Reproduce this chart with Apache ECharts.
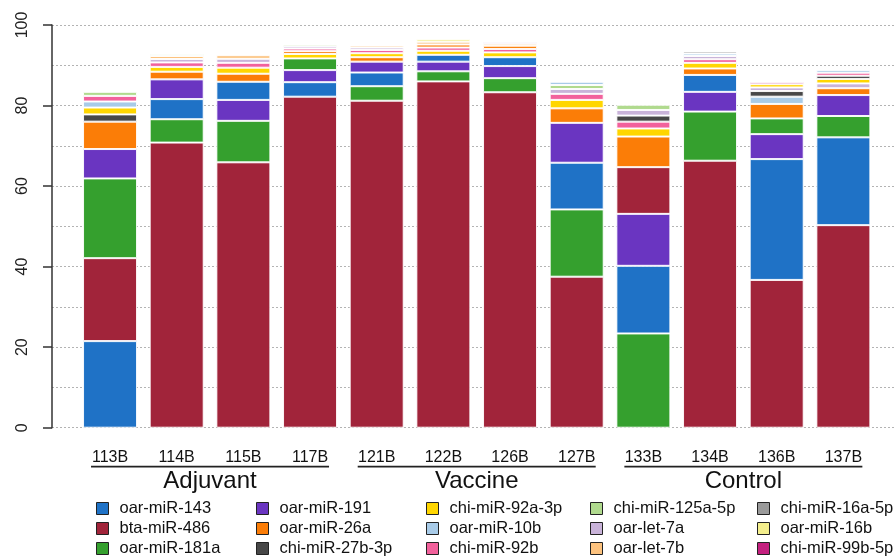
<!DOCTYPE html>
<html>
<head>
<meta charset="utf-8">
<script src="https://cdn.jsdelivr.net/npm/echarts@6.0.0/dist/echarts.min.js"></script>
<style>
html, body { margin: 0; padding: 0; background: #fff; }
#chart { width: 894px; height: 557px; }
</style>
</head>
<body>
<div id="chart"></div>
<script>
var samples = ['113B', '114B', '115B', '117B', '121B', '122B', '126B', '127B', '133B', '134B', '136B', '137B'];
var groups = ['Adjuvant', 'Vaccine', 'Control'];

var mirNames = ['oar-miR-143', 'bta-miR-486', 'oar-miR-181a', 'oar-miR-191', 'oar-miR-26a', 'chi-miR-27b-3p',
    'chi-miR-92a-3p', 'oar-miR-10b', 'chi-miR-92b', 'chi-miR-125a-5p', 'oar-let-7a', 'oar-let-7b',
    'chi-miR-16a-5p', 'oar-miR-16b', 'chi-miR-99b-5p'];
var mirColors = ['#1f72c6', '#a1243a', '#35a02e', '#6a35c1', '#fb7d07', '#474747',
    '#ffd600', '#a8cbe8', '#f2619c', '#b0da8e', '#c9b3d9', '#fcc27e',
    '#9a9a9a', '#f3ee8c', '#c4207f'];

// percent of reads per sample, same order as samples
var oar_miR_143     = [21.5, 5.0, 4.5, 3.6, 3.4, 1.7, 2.2, 11.6, 16.8, 4.2, 30.0, 21.8];
var bta_miR_486     = [20.6, 70.8, 65.9, 82.2, 81.2, 86.0, 83.3, 37.5, 11.6, 66.3, 36.7, 50.3];
var oar_miR_181a    = [19.8, 5.8, 10.3, 2.9, 3.6, 2.5, 3.5, 16.7, 23.4, 12.2, 3.9, 5.3];
var oar_miR_191     = [7.3, 4.9, 5.2, 3.0, 2.7, 2.4, 3.0, 9.9, 12.9, 4.9, 6.2, 5.2];
var oar_miR_26a     = [6.8, 1.9, 2.0, 0.7, 1.1, 0.75, 0.8, 3.6, 7.6, 1.6, 3.6, 1.7];
var chi_miR_27b_3p  = [1.8, 0, 0, 0, 0, 0, 0, 0, 1.5, 0, 1.4, 0.8];
var chi_miR_92a_3p  = [1.7, 1.2, 1.5, 1.1, 1.0, 1.0, 1.2, 2.1, 2.0, 1.4, 0.8, 1.1];
var oar_miR_10b     = [1.5, 0, 0, 0, 0, 0, 0, 0.8, 0, 0.6, 1.8, 0.7];
var chi_miR_92b     = [1.4, 1.1, 1.2, 0.65, 0.8, 0.8, 0.85, 1.5, 1.7, 0.9, 0, 0.75];
var chi_miR_125a_5p = [1.0, 0.5, 0, 0.45, 0, 0, 0, 1.0, 1.3, 0, 0, 0];
var oar_let_7a      = [0, 0.85, 1.0, 0.55, 0.6, 0, 0.4, 1.2, 1.4, 0.8, 0.9, 1.2];
var oar_let_7b      = [0, 0.75, 0.9, 0, 0.5, 0.7, 0.5, 0, 0, 0, 0, 0];
var chi_miR_16a_5p  = [0, 0, 0, 0, 0, 0, 0, 0, 0, 0.55, 0, 0];
var oar_miR_16b     = [0, 0, 0, 0, 0, 0.65, 0, 0, 0, 0, 0, 0];
var chi_miR_99b_5p  = [0, 0, 0, 0, 0, 0, 0, 0, 0, 0, 0.55, 0];

var valueLists = [oar_miR_143, bta_miR_486, oar_miR_181a, oar_miR_191, oar_miR_26a, chi_miR_27b_3p,
    chi_miR_92a_3p, oar_miR_10b, chi_miR_92b, chi_miR_125a_5p, oar_let_7a, oar_let_7b,
    chi_miR_16a_5p, oar_miR_16b, chi_miR_99b_5p];

var font = 'Liberation Sans, Arial, sans-serif';

function chartInit() {
    // each bar is stacked largest first, so build one series per rank
    var ranked = samples.map(function (s, i) {
        var items = [];
        for (var k = 0; k < valueLists.length; k++) {
            if (valueLists[k][i] > 0) items.push({k: k, v: valueLists[k][i]});
        }
        items.sort(function (a, b) { return b.v - a.v; });
        return items;
    });

    var series = [];
    for (var r = 0; r < mirNames.length; r++) {
        series.push({
            type: 'bar',
            xAxisIndex: 1,
            yAxisIndex: 1,
            stack: 'all',
            barWidth: 54,
            silent: true,
            itemStyle: {borderColor: 'rgba(255,255,255,0.9)', borderWidth: 1},
            data: ranked.map(function (items) {
                var it = items[r];
                return it ? {value: it.v, itemStyle: {color: mirColors[it.k]}} : '-';
            })
        });
    }
    // empty series only for the legend
    mirNames.forEach(function (n, k) {
        series.push({
            name: n,
            type: 'bar',
            xAxisIndex: 1,
            yAxisIndex: 1,
            stack: 'all',
            barWidth: 54,
            itemStyle: {color: mirColors[k], borderColor: '#222', borderWidth: 1},
            data: []
        });
    });

    var legendLeft = [96, 256, 426, 590, 757];
    var legends = legendLeft.map(function (x, c) {
        return {
            orient: 'vertical',
            left: x,
            top: 500,
            height: 90,
            padding: 0,
            itemWidth: 12,
            itemHeight: 12,
            itemGap: 3,
            icon: 'rect',
            selectedMode: false,
            itemStyle: {borderColor: '#222', borderWidth: 1},
            textStyle: {fontFamily: font, fontSize: 16.5, color: '#111', padding: [0, 0, 0, 6], lineHeight: 17},
            data: mirNames.slice(c * 3, c * 3 + 3)
        };
    });

    var dotted = {color: '#b3b3b3', type: [2, 2], width: 1};

    var option = {
        animation: false,
        backgroundColor: '#fff',
        legend: legends,
        grid: [
            {left: 52, right: 0, top: 25, bottom: 129.3, containLabel: false},
            {left: 76.7, right: 17.3, top: 25, bottom: 129.3, containLabel: false}
        ],
        xAxis: [
            {type: 'value', gridIndex: 0, show: false, min: 0, max: 1},
            {
                type: 'category',
                gridIndex: 1,
                data: samples,
                position: 'bottom',
                axisLine: {show: false},
                axisTick: {show: false},
                axisLabel: {margin: 22, fontFamily: font, fontSize: 16, color: '#111', interval: 0}
            },
            {
                type: 'category',
                gridIndex: 1,
                data: groups,
                position: 'bottom',
                offset: 0,
                axisLine: {show: false},
                axisTick: {show: false},
                axisLabel: {
                    margin: 36,
                    interval: 0,
                    formatter: function (v) { return '{hr|}\n{g|' + v + '}'; },
                    rich: {
                        hr: {width: 238, height: 0, borderColor: '#222', borderWidth: 1.8, lineHeight: 6},
                        g: {fontFamily: font, fontSize: 24, color: '#111', lineHeight: 24}
                    }
                }
            }
        ],
        yAxis: [
            {
                type: 'value',
                gridIndex: 0,
                min: 0,
                max: 100,
                interval: 20,
                axisLine: {show: true, lineStyle: {color: '#333', width: 1.5}},
                axisTick: {show: true, length: 9, lineStyle: {color: '#333', width: 1.5}},
                axisLabel: {rotate: 90, margin: 21, fontFamily: font, fontSize: 16, color: '#222'},
                splitLine: {show: true, lineStyle: dotted},
                minorTick: {show: false, splitNumber: 2},
                minorSplitLine: {show: true, lineStyle: dotted}
            },
            {type: 'value', gridIndex: 1, min: 0, max: 100, show: false}
        ],
        series: series
    };

    var chart = echarts.init(document.getElementById('chart'));
    chart.setOption(option);
}
chartInit();
</script>
</body>
</html>
